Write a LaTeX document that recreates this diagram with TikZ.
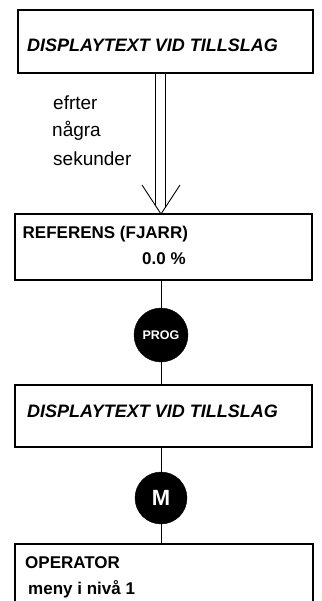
\documentclass[tikz,border=0pt]{standalone}
\usepackage{fontspec}
\setmainfont{Liberation Sans}
\begin{document}
\begin{tikzpicture}[x=1pt, y=-1pt,
    dbox/.style={rectangle, draw=black, line width=1.3pt, inner sep=0pt},
    btext/.style={anchor=base west, inner sep=0pt, font=\fontsize{17}{20}\selectfont\bfseries},
    itext/.style={anchor=base west, inner sep=0pt, font=\fontsize{18}{21}\selectfont\bfseries\itshape},
    ltext/.style={anchor=base west, inner sep=0pt, font=\fontsize{19}{22}\selectfont},
    knob/.style={circle, fill=black, draw=black, text=white, inner sep=0pt, font=\bfseries},
    link/.style={draw=black, line width=0.9pt},
]
\useasboundingbox (0,0) rectangle (321,601);
\clip (0,0) rectangle (321,601);
% boxes
\node[dbox, minimum width=295pt, minimum height=63pt] (start) at (165.5,41.5) {};
\node[dbox, minimum width=297pt, minimum height=66pt] (ref) at (163.5,247) {};
\node[dbox, minimum width=297pt, minimum height=62pt] (disp) at (163.5,416) {};
\node[dbox, minimum width=298pt, minimum height=120pt] (oper) at (164,604) {};
% texts
\node[itext] (t1) at (27,52) {DISPLAYTEXT VID TILLSLAG};
\node[ltext] (l1) at (53,110) {efrter};
\node[ltext] (l2) at (52,137) {några};
\node[ltext] (l3) at (53,166) {sekunder};
\node[btext] (t2) at (22.5,238) {REFERENS (FJARR)};
\node[btext] (t3) at (142,264) {0.0 \%};
\node[itext] (t4) at (27,417) {DISPLAYTEXT VID TILLSLAG};
\node[btext] (t5) at (25,568) {OPERATOR};
\node[btext] (t6) at (28,594) {meny i nivå 1};
% keys
\node[knob, minimum size=54pt, font=\fontsize{12.5}{13}\selectfont\bfseries] (prog) at (161,335) {PROG};
\node[knob, minimum size=52pt, font=\fontsize{22}{24}\selectfont\bfseries] (mkey) at (161,498) {M};
% double arrow
\coordinate (tip) at (161,214);
\coordinate (al) at (142,185);
\coordinate (ar) at (180,185);
\draw[link] (155,73) -- (155,205);
\draw[link] (165,73) -- (165,208);
\draw[link] (al) -- (tip) -- (ar);
% connectors
\draw[link] (ref.south -| prog.north) -- (prog.north);
\draw[link] (prog.south) -- (disp.north -| prog.south);
\draw[link] (disp.south -| mkey.north) -- (mkey.north);
\draw[link] (mkey.south) -- (oper.north -| mkey.south);
\end{tikzpicture}
\end{document}
